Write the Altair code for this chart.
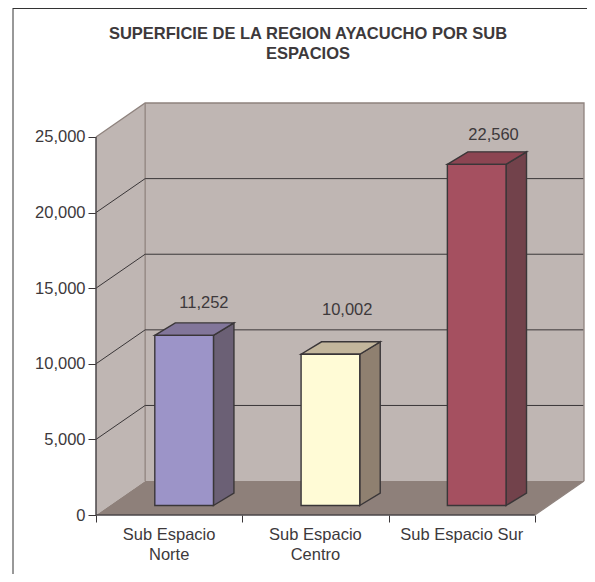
import altair as alt
import pandas as pd

TITLE = ["SUPERFICIE DE LA REGION AYACUCHO POR SUB", "ESPACIOS"]
categories = ["Sub Espacio\nNorte", "Sub Espacio\nCentro", "Sub Espacio Sur"]
values = [11252, 10002, 22560]
y_ticks = [0, 5000, 10000, 15000, 20000, 25000]

front_colors = ["#9c94c8", "#fffbd6", "#a55060"]
side_colors = ["#6b6075", "#8f8070", "#72424b"]
top_colors = ["#82769a", "#c3b69c", "#8c4552"]

WIDTH, HEIGHT = 488, 412
NCAT = 3
DX, DY = 0.336, 2243           # depth of the room, in axis units
BAR_L, BAR_R = 0.402, 0.803
BAR_DX, BAR_DY = 0.14, 825     # depth of a bar
BASE = 627
LABEL_DX = [0.27, 0.23, 0.23]
LABEL_LIFT = [1320, 2090, 1130]
FONT = "Liberation Sans"
FS = 16.5
TXT = "#3d393b"
EDGE = "#3a3638"
WALL = "#bfb6b3"
FLOOR = "#8e807a"
WALL_EDGE = "#8f837e"

x_scale = alt.Scale(domain=[0, NCAT + DX], nice=False, zero=False)
y_scale = alt.Scale(domain=[0, 25000 + DY], nice=False, zero=False)
x_axis = alt.Axis(values=[0, 1, 2, 3], labels=False, domain=False, grid=False, title=None,
                  tickColor=EDGE, tickSize=7, tickWidth=1)
y_axis = alt.Axis(values=y_ticks, labelExpr="format(datum.value, ',')", domain=False, grid=False,
                  title=None, tickColor=EDGE, tickSize=8, tickWidth=1, labelPadding=3,
                  labelFont=FONT, labelFontSize=FS, labelColor=TXT)


def X():
    return alt.X("x:Q", scale=x_scale, axis=x_axis)


def Y():
    return alt.Y("y:Q", scale=y_scale, axis=y_axis)


def poly(fill, pts, **mark):
    df = pd.DataFrame(pts, columns=["x", "y", "y2"])
    return alt.Chart(df).mark_area(
        orient="vertical", interpolate="linear", fill=fill, **mark
    ).encode(x=X(), y=Y(), y2="y2:Q")


def line_layer(rows, color, width):
    out = []
    for name, pts in rows:
        for i, (x, y) in enumerate(pts):
            out.append(dict(line=name, i=i, x=x, y=y))
    return alt.Chart(pd.DataFrame(out)).mark_line(
        color=color, strokeWidth=width, interpolate="linear"
    ).encode(x=X(), y=Y(), detail="line:N", order="i:Q")


room = [
    poly(WALL, [(0, 0, 25000), (DX, DY, 25000 + DY)]),
    poly(WALL, [(DX, DY, 25000 + DY), (NCAT + DX, DY, 25000 + DY)]),
    poly(FLOOR, [(0, 0, 0), (DX, 0, DY), (NCAT, 0, DY), (NCAT + DX, DY, DY)]),
]

room_edges = line_layer(
    [("top", [(0, 25000), (DX, 25000 + DY), (NCAT + DX, 25000 + DY), (NCAT + DX, DY)]),
     ("corner", [(DX, DY), (DX, 25000 + DY)]),
     ("floorside", [(NCAT, 0), (NCAT + DX, DY)])],
    WALL_EDGE, 1.3,
)

grid = line_layer(
    [(str(v), [(0, v), (DX, v + DY), (NCAT + DX - 0.005, v + DY)]) for v in y_ticks[1:-1]],
    EDGE, 1,
)

front_edges = line_layer(
    [("left", [(0, 0), (0, 25000)]), ("bottom", [(0, 0), (NCAT, 0)])],
    "#4a4648", 1.5,
)

bar_faces = []
bars = []
for k, v in enumerate(values):
    xl, xr = k + BAR_L, k + BAR_R
    top = BASE + v
    bar_faces.append(poly(side_colors[k], [
        (xr, BASE, top),
        (xr + BAR_DX, BASE + BAR_DY, top + BAR_DY),
    ], stroke=EDGE, strokeWidth=1.4))
    bar_faces.append(poly(top_colors[k], [
        (xl, top, top),
        (xl + BAR_DX, top, top + BAR_DY),
        (xr, top, top + BAR_DY),
        (xr + BAR_DX, top + BAR_DY, top + BAR_DY),
    ], stroke=EDGE, strokeWidth=1.4))
    bars.append(dict(x=xl, x2=xr, y=BASE, y2=top, fill=front_colors[k]))

bar_fronts = alt.Chart(pd.DataFrame(bars)).mark_rect(stroke=EDGE, strokeWidth=1.4).encode(
    x=X(),
    x2="x2:Q",
    y=Y(),
    y2="y2:Q",
    fill=alt.Fill("fill:N", scale=None),
)

value_labels = alt.Chart(pd.DataFrame({
    "x": [k + (BAR_L + BAR_R) / 2 + LABEL_DX[k] / 2 for k in range(NCAT)],
    "y": [BASE + v + BAR_DY + LABEL_LIFT[k] for k, v in enumerate(values)],
    "v": values,
})).mark_text(font=FONT, fontSize=FS, color=TXT).encode(
    x=X(), y=Y(), text=alt.Text("v:Q", format=",")
)

cat_labels = alt.Chart(pd.DataFrame({
    "x": [k + 0.5 for k in range(NCAT)],
    "c": categories,
})).mark_text(font=FONT, fontSize=FS, color=TXT, baseline="top", lineBreak="\n", lineHeight=20).encode(
    x=X(), y=alt.value(HEIGHT + 12), text="c:N"
)

title = alt.Chart(pd.DataFrame({"t": ["\n".join(TITLE)]})).mark_text(
    font=FONT, fontSize=16.5, fontWeight="bold", color=TXT, baseline="top",
    lineBreak="\n", lineHeight=20,
).encode(x=alt.value(212), y=alt.value(-77), text="t:N")

frame_left = alt.Chart(pd.DataFrame({"a": [0]})).mark_rule(color="#333333", strokeWidth=1).encode(
    x=alt.value(-83), y=alt.value(-95), y2=alt.value(479)
)
frame_top = alt.Chart(pd.DataFrame({"a": [0]})).mark_rule(color="#333333", strokeWidth=1).encode(
    x=alt.value(-83), x2=alt.value(499), y=alt.value(-94.5)
)

chart = alt.layer(
    frame_left, frame_top, *room, room_edges, grid, front_edges,
    *bar_faces, bar_fronts, value_labels, cat_labels, title,
).properties(
    width=WIDTH,
    height=HEIGHT,
    autosize=alt.AutoSizeParams(type="none"),
    padding={"left": 88, "top": 95, "right": 3, "bottom": 59},
    background="white",
).configure_view(stroke=None)

chart.save("out.html", embed_options={"renderer": "svg", "actions": False})
